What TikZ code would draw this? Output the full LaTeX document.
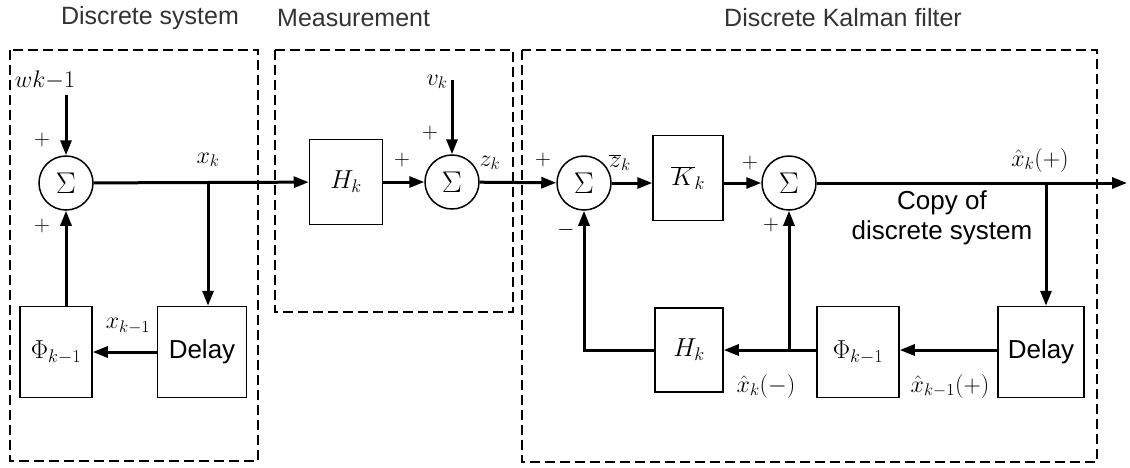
\RequirePackage{fix-cm}
\documentclass[tikz,border=0pt]{standalone}
\usepackage{fontspec}
\setmainfont{Liberation Sans}
\usetikzlibrary{arrows.meta}
\begin{document}
\begin{tikzpicture}[x=1pt,y=-1pt,
  sig/.style={line width=3pt,-{Triangle[length=15pt,width=11pt]}},
  blk/.style={draw,line width=1.5pt,rectangle,inner sep=0pt},
  sumnode/.style={draw,line width=1.5pt,circle,minimum size=54pt,inner sep=0pt,font=\fontsize{30}{32}\selectfont},
  region/.style={draw,line width=2.4pt,dash pattern=on 10pt off 5pt},
  title/.style={font=\fontsize{25}{28}\selectfont,text=black!80,inner sep=0pt},
  lbl/.style={font=\fontsize{24}{26}\selectfont,inner sep=0pt},
  sgn/.style={font=\fontsize{22}{24}\selectfont,inner sep=0pt},
  txt/.style={font=\fontsize{26}{30}\selectfont,inner sep=0pt}]
\useasboundingbox (0,0) rectangle (1130,467);
\fill[white] (0,0) rectangle (1130,467);
% regions
\draw[region] (10,50) rectangle (258,461);
\draw[region] (275,50) rectangle (513,312);
\draw[region] (522,50) rectangle (1097,462);
\node[title] (t1) at (150,18) {Discrete system};
\node[title,anchor=west] (t2) at (277,18) {Measurement};
\node[title] (t3) at (843,18) {Discrete Kalman filter};
% discrete system
\node[sumnode] (sum1) at (66,183) {$\Sigma$};
\node[blk,minimum width=72pt,minimum height=91pt] (phi1) at (56,352) {};
\node[txt] at (phi1) {$\Phi_{k-1}$};
\node[blk,minimum width=89pt,minimum height=91pt] (del1) at (202,352) {};
\node[txt] at (del1) {Delay};
\node[lbl] (wl) at (45,80) {$wk{-}1$};
\coordinate (wtop) at (66,95);
\draw[sig] (wtop) -- (sum1.north);
\node[sgn] (p1) at (42,140) {$+$};
\node[sgn] (p2) at (42,226) {$+$};
\coordinate (b1) at (208,183);
\node[lbl] (xk) at (208,160) {$x_k$};
\draw[sig] (b1) -- (b1 |- del1.north);
\draw[sig] (del1) -- (phi1);
\node[lbl] (xk1) at (128,326) {$x_{k-1}$};
\draw[sig] (sum1.south |- phi1.north) -- (sum1.south);
% measurement
\node[blk,minimum width=73pt,minimum height=85pt] (H1) at (346,182) {};
\node[txt] at (H1) {$H_k$};
\draw[sig] (sum1) -- (H1);
\node[sumnode] (sum2) at (452,182) {$\Sigma$};
\draw[sig] (H1) -- (sum2);
\node[sgn] (p3) at (402,160) {$+$};
\node[sgn] (p4) at (430,133) {$+$};
\node[lbl] (vk) at (437,82) {$v_k$};
\coordinate (vtop) at (452,80);
\draw[sig] (vtop) -- (sum2.north);
\node[lbl] (zk) at (490,163) {$z_k$};
% Kalman filter
\node[sumnode] (sum3) at (584,183) {$\Sigma$};
\draw[sig] (sum2) -- (sum3);
\node[sgn] (p5) at (543,160) {$+$};
\node[sgn] (m1) at (566,230) {$-$};
\node[blk,minimum width=70pt,minimum height=85pt] (K) at (688,178) {};
\node[txt] at (K) {$\overline{K}_k$};
\draw[sig] (sum3) -- (sum3 -| K.west);
\node[lbl] (zb) at (620,163) {$\overline{z}_k$};
\node[sumnode] (sum4) at (789,183) {$\Sigma$};
\draw[sig] (K.east |- sum4) -- (sum4);
\node[sgn] (p6) at (750,163) {$+$};
\node[sgn] (p7) at (771,225) {$+$};
\coordinate (out) at (1127,183);
\draw[sig] (sum4) -- (out);
\node[lbl] (xhp) at (1040,160) {$\hat x_k(+)$};
\node[txt,align=center] (copy) at (942,218) {Copy of\\discrete system};
\node[blk,minimum width=86pt,minimum height=91pt] (del2) at (1041,352) {};
\node[txt] at (del2) {Delay};
\node[blk,minimum width=82pt,minimum height=91pt] (phi2) at (858,352) {};
\node[txt] at (phi2) {$\Phi_{k-1}$};
\node[blk,minimum width=68pt,minimum height=84pt] (H2) at (689,350) {};
\node[txt] at (H2) {$H_k$};
\coordinate (b2) at (1046,183);
\draw[sig] (b2) -- (b2 |- del2.north);
\draw[sig] (del2.west |- 0,350) -- (phi2.east |- 0,350);
\draw[sig] (phi2.west |- 0,350) -- (H2.east |- 0,350);
\coordinate (b3) at (789,350);
\draw[sig] (b3) -- (sum4.south);
\draw[sig] (H2.west) -- (sum3.south |- H2.west) -- (sum3.south);
\node[lbl] (xhm) at (766,386) {$\hat x_k(-)$};
\node[lbl] (xhp1) at (950,386) {$\hat x_{k-1}(+)$};
\end{tikzpicture}
\end{document}
